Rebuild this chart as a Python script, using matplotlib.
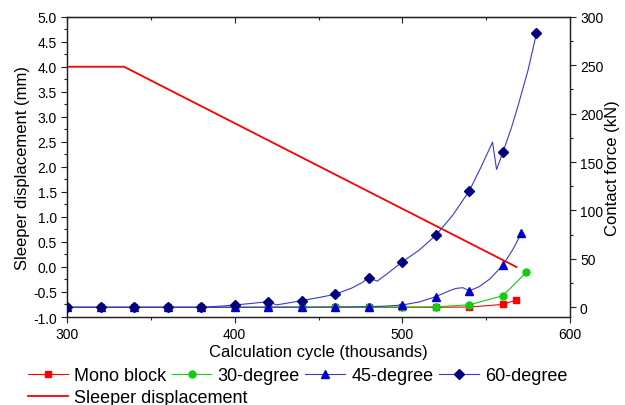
import matplotlib
matplotlib.use("Agg")
import matplotlib.pyplot as plt
from matplotlib.lines import Line2D

plt.rcParams['font.family'] = ['Liberation Sans', 'DejaVu Sans']

# ---- data (contact force, kN) ----
cycles = [300, 320, 340, 360, 380, 400, 420, 440, 460, 480, 500, 520, 540, 560]

mono_x = cycles + [568]
mono_y = [0, 0, 0, 0, 0, 0, 0, 0, 0, 0, 0, 0, 0.3, 3.0, 7.5]

d30_x = cycles + [574]
d30_y = [0, 0, 0, 0, 0, 0, 0, 0, 0, 0, 0.3, 0.5, 2.6, 12.0, 36.3]

d45_x = cycles + [571]
d45_y = [0, 0, 0, 0, 0, 0, 0, 0, 0.3, 0.7, 2.4, 11.0, 17.0, 43.5, 76.5]
# thin connecting line of 45-degree (dense simulation output)
d45_line_x = [300, 400, 460, 480, 490, 500, 510, 520, 524, 528, 532, 536, 540, 546,
              552, 560, 566, 571]
d45_line_y = [0, 0, 0.3, 0.7, 1.2, 2.4, 5.5, 11.0, 14.0, 17.0, 19.5, 20.3, 17.0, 21.5,
              29.0, 43.5, 60.0, 76.5]

d60_x = cycles + [580]
d60_y = [0, 0, 0, 0, 0, 2.4, 5.9, 6.9, 13.5, 30.6, 47.0, 74.4, 120.4, 160.2, 282.7]
# thin connecting line of 60-degree
d60_line_x = [300, 380, 390, 400, 410, 420, 425, 432, 440, 450, 460, 470, 476, 480,
              485, 492, 500, 510, 520, 530, 540, 547, 553.8, 556.2, 560, 565, 569,
              575, 580]
d60_line_y = [0, 0, 1.0, 2.4, 4.0, 5.9, 2.5, 4.5, 6.9, 10.0, 13.5, 20.0, 25.5, 30.6,
              27.0, 36.0, 47.0, 59.0, 74.4, 95.0, 120.4, 145.0, 170.5, 142.3, 160.2,
              185.0, 208.0, 245.0, 282.7]

# sleeper displacement (mm)
sleeper_x = [300, 334, 568]
sleeper_y = [4.0, 4.0, 0.0]

RED = '#FF0000'
GREEN = '#11CC11'
BLUE = '#0000CC'
LBLUE = '#3A3ACC'
NAVY = '#000080'

fig = plt.figure(figsize=(6.25, 4.06), dpi=100)
ax = fig.add_axes([67/625, 1-318/406, (570-67)/625, (318-17.7)/406])
ax2 = ax.twinx()

# sleeper displacement on left axis
ax.plot(sleeper_x, sleeper_y, color=RED, lw=1.3, zorder=3)
ax.set_xlim(300, 600)
ax.set_ylim(-1.0, 5.0)
ax.set_yticks([-1.0 + 0.5*i for i in range(13)])
ax.set_yticklabels([f"{-1.0 + 0.5*i:.1f}" for i in range(13)])
ax.set_yticks([-0.75 + 0.5*i for i in range(12)], minor=True)
ax.set_xticks([300, 400, 500, 600])
ax.set_xticks([350, 450, 550], minor=True)

# contact forces on right axis
ax2.plot(mono_x, mono_y, color=RED, lw=0.8, marker='s', ms=4.5, mec=RED, mfc=RED, zorder=3)
ax2.plot(d30_x, d30_y, color=GREEN, lw=0.8, marker='o', ms=5, mec=GREEN, mfc=GREEN, zorder=3)
ax2.plot(d45_line_x, d45_line_y, color=LBLUE, lw=0.8, zorder=3)
ax2.plot(d45_x, d45_y, ls='none', marker='^', ms=6, mec=BLUE, mfc=BLUE, zorder=4)
ax2.plot(d60_line_x, d60_line_y, color=LBLUE, lw=0.8, zorder=3)
ax2.plot(d60_x, d60_y, ls='none', marker='D', ms=4.8, mec=NAVY, mfc=NAVY, zorder=5)
ax2.set_ylim(-10, 300)
ax2.set_yticks([0, 50, 100, 150, 200, 250, 300])
ax2.set_yticks([25, 75, 125, 175, 225, 275], minor=True)

for a in (ax, ax2):
    for s in a.spines.values():
        s.set_linewidth(0.9)
        s.set_color('#222222')

ax.tick_params(axis='both', which='major', length=4.2, width=0.8, labelsize=10, pad=3,
               colors='#222222', labelcolor='black')
ax.tick_params(axis='both', which='minor', length=2.4, width=0.8, colors='#222222')
ax2.tick_params(axis='y', which='major', length=4.2, width=0.8, labelsize=10, pad=3,
                colors='#222222', labelcolor='black')
ax2.tick_params(axis='y', which='minor', length=2.4, width=0.8, colors='#222222')

# top ticks pointing inward
top = ax.secondary_xaxis('top')
top.set_xticks([300, 400, 500, 600])
top.set_xticks([350, 450, 550], minor=True)
top.tick_params(which='major', direction='in', length=4.2, width=0.8, labeltop=False,
                colors='#222222')
top.tick_params(which='minor', direction='in', length=2.4, width=0.8, colors='#222222')
top.set_xticklabels([])

ax.set_xlabel('Calculation cycle (thousands)', fontsize=12, labelpad=2)
ax.set_ylabel('Sleeper displacement (mm)', fontsize=12, labelpad=2)
ax2.set_ylabel('Contact force (kN)', fontsize=12, labelpad=1)

h_mono = Line2D([], [], color=RED, lw=0.8, marker='s', ms=4.5, mfc=RED, mec=RED)
h_30 = Line2D([], [], color=GREEN, lw=0.8, marker='o', ms=5, mfc=GREEN, mec=GREEN)
h_45 = Line2D([], [], color=LBLUE, lw=0.8, marker='^', ms=6, mfc=BLUE, mec=BLUE)
h_60 = Line2D([], [], color=LBLUE, lw=0.8, marker='D', ms=4.8, mfc=NAVY, mec=NAVY)
h_sl = Line2D([], [], color=RED, lw=1.3)

leg1 = fig.legend([h_mono, h_30, h_45, h_60],
                  ['Mono block', '30-degree', '45-degree', '60-degree'],
                  ncol=4, loc='upper left', bbox_to_anchor=(28/625, 1-368/406),
                  bbox_transform=fig.transFigure, frameon=False, fontsize=13,
                  handlelength=2.2, handletextpad=0.35, columnspacing=0.3,
                  borderpad=0, borderaxespad=0)
leg2 = fig.legend([h_sl], ['Sleeper displacement'],
                  loc='upper left', bbox_to_anchor=(28/625, 1-390/406),
                  bbox_transform=fig.transFigure, frameon=False, fontsize=13,
                  handlelength=2.2, handletextpad=0.35,
                  borderpad=0, borderaxespad=0)

fig.savefig('out.png', dpi=100)
